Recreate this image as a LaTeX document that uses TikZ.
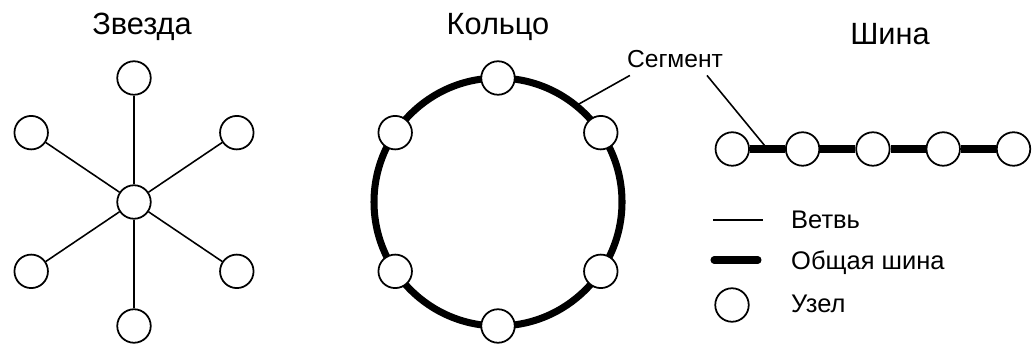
\documentclass[tikz,border=0pt]{standalone}
\usepackage{fontspec}
\setmainfont{Liberation Sans}
\usetikzlibrary{positioning, calc}

\begin{document}
\begin{tikzpicture}[
  x=0.02cm, y=-0.02cm,
  uzel/.style={draw, circle, fill=white, line width=1pt, minimum size=0.67cm, inner sep=0pt},
  vetv/.style={line width=0.9pt},
  shina/.style={line width=4pt},
  title/.style={font=\fontsize{17.5}{20}\selectfont, anchor=base},
  legend/.style={font=\fontsize{14.5}{17}\selectfont, anchor=base west}
]
  \useasboundingbox (0,0) rectangle (1034,347);

  % Звезда
  \node[title] (tz) at (142,35) {Звезда};
  \node[uzel] (z0) at (134,202) {};
  \foreach \a [count=\i] in {90,34,-34,-90,-146,146}
    \node[uzel] (z\i) at ($(z0)+(\a:124)$) {};
  \foreach \i in {1,...,6}
    \draw[vetv] (z0) -- (z\i);

  % Кольцо
  \node[title] (tk) at (498,35) {Кольцо};
  \coordinate (k0) at (498,202);
  \draw[shina] (k0) circle[radius=124];
  \foreach \a [count=\i] in {90,34,-34,-90,-146,146}
    \node[uzel] (k\i) at ($(k0)+(\a:124)$) {};

  % Шина
  \node[title] (ts) at (890,45) {Шина};
  \foreach \i in {1,...,5}
    \node[uzel] (s\i) at ({662+70.3*\i},149) {};
  \foreach \i [count=\j from 2] in {1,...,4}
    \draw[shina] (s\i) -- (s\j);

  % Сегмент
  \node[font=\fontsize{14}{17}\selectfont, anchor=base] (seg) at (675,68) {Сегмент};
  \coordinate (segk) at ($(k0)+(-51:124)$);
  \coordinate (segs) at ($(s1)!0.5!(s2)$);
  \draw[vetv] ([shift={(9,1)}]seg.south west) -- (segk);
  \draw[vetv] ([shift={(32,1)}]seg.south) -- (segs);

  % легенда
  \node[legend] (lv) at (785,229) {Ветвь};
  \node[legend] (lo) at (785,270) {Общая шина};
  \node[legend] (lu) at (785,313) {Узел};
  \draw[vetv] (713,220) -- (763,220);
  \draw[shina, line cap=round] (714,260) -- (758,260);
  \node[uzel] (u0) at (732,305) {};
\end{tikzpicture}
\end{document}
